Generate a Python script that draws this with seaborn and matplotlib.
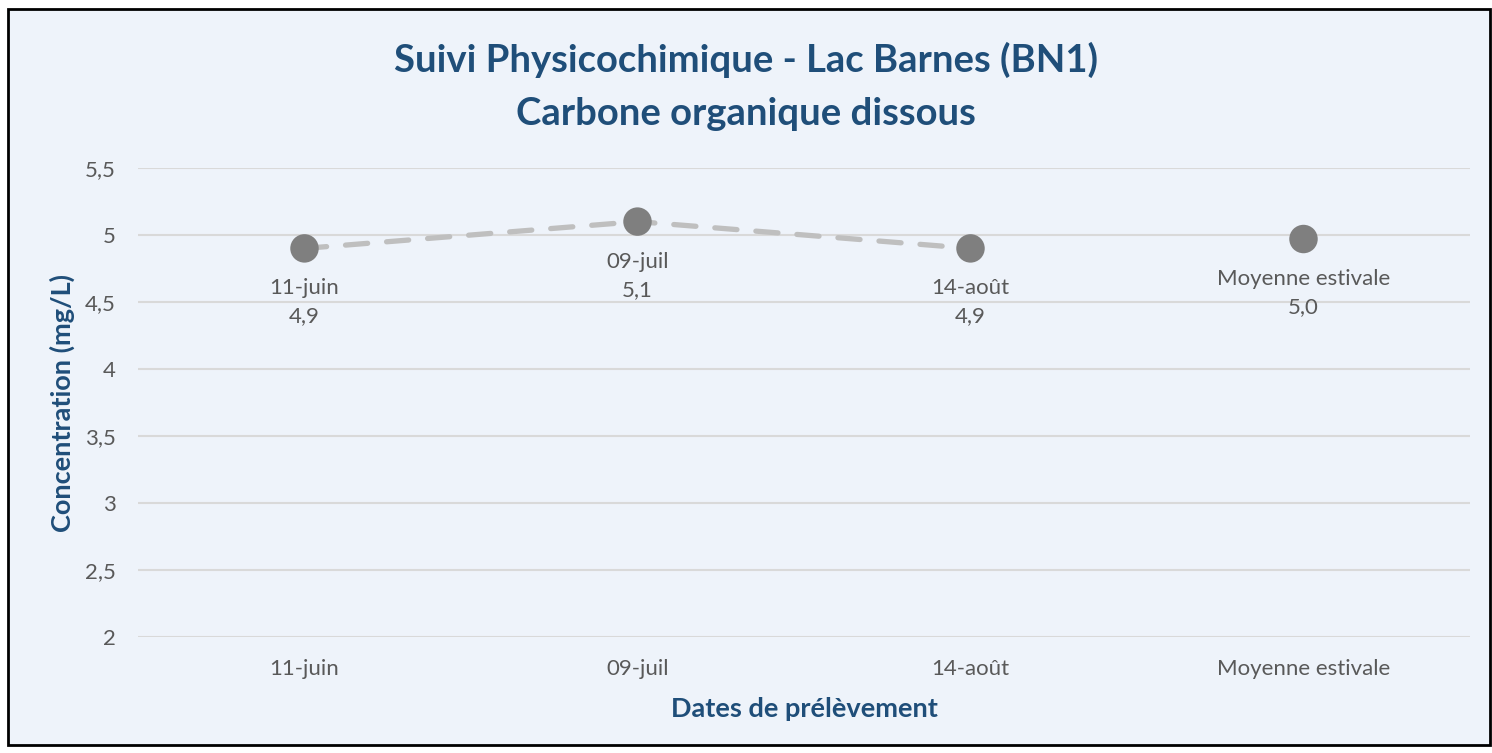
import matplotlib
matplotlib.use("Agg")
import matplotlib.pyplot as plt
import seaborn as sns
import pandas as pd
from matplotlib.patches import Rectangle

# Data
dates = ["11-juin", "09-juil", "14-août"]
values = [4.9, 5.1, 4.9]
mean_label = "Moyenne estivale"
mean_value = 4.97
categories = dates + [mean_label]
all_values = values + [mean_value]
yticks = [2, 2.5, 3, 3.5, 4, 4.5, 5, 5.5]

sns.set_theme(style="white")
plt.rcParams['font.family'] = ['Lato', 'DejaVu Sans']

title_color = "#1F4E79"
text_color = "#595959"
bg = "#EEF3FA"

fig = plt.figure(figsize=(14.92, 7.53), dpi=100)
fig.patch.set_facecolor("white")
rect = Rectangle((8/1492, 8/753), 1482/1492, 736/753, transform=fig.transFigure,
                 facecolor=bg, edgecolor="black", linewidth=2, zorder=-5)
fig.patches.append(rect)

ax = fig.add_axes([138/1492, 1-637/753, 1332/1492, (637-168)/753])
ax.set_facecolor("none")
ax.set_zorder(2)

df_line = pd.DataFrame({"date": dates, "val": values})
df_all = pd.DataFrame({"date": categories, "val": all_values})

sns.lineplot(data=df_line, x="date", y="val", sort=False, ax=ax, color="#BFBFBF",
             linewidth=3.8, linestyle=(0, (4.2, 3.6)), zorder=2,
             dash_capstyle="round")
sns.scatterplot(data=df_all, x="date", y="val", ax=ax, color="#7F7F7F", s=420,
                edgecolor="none", zorder=3)

for i, (c, v) in enumerate(zip(categories, all_values)):
    lab = f"{c}\n{v:.1f}".replace(".", ",")
    ax.annotate(lab, (i, v), xytext=(0, -30), textcoords="offset pixels",
                ha="center", va="top", fontsize=16, color=text_color, linespacing=1.5)

ax.set_xlim(-0.5, 3.5)
ax.set_ylim(2, 5.5)
ax.set_yticks(yticks)
ax.set_yticklabels([f"{t:g}".replace(".", ",") for t in yticks])
ax.yaxis.grid(True, color="#D9D9D9", linewidth=1.5)
ax.xaxis.grid(False)
for s in ax.spines.values():
    s.set_visible(False)
ax.tick_params(axis="both", colors=text_color, labelsize=16, length=0)
ax.tick_params(axis="x", pad=16)
ax.tick_params(axis="y", pad=16)

ax.set_xlabel("Dates de prélèvement", fontsize=19.5, fontweight="bold", color=title_color, labelpad=13)
ax.set_ylabel("Concentration (mg/L)", fontsize=19.5, fontweight="bold", color=title_color, labelpad=7)

fig.text(0.5, 1-86/753, "Suivi Physicochimique - Lac Barnes (BN1)\nCarbone organique dissous",
         ha="center", va="center", fontsize=27.5, fontweight="bold", color=title_color, linespacing=1.68)

fig.savefig("out.png", dpi=100)
